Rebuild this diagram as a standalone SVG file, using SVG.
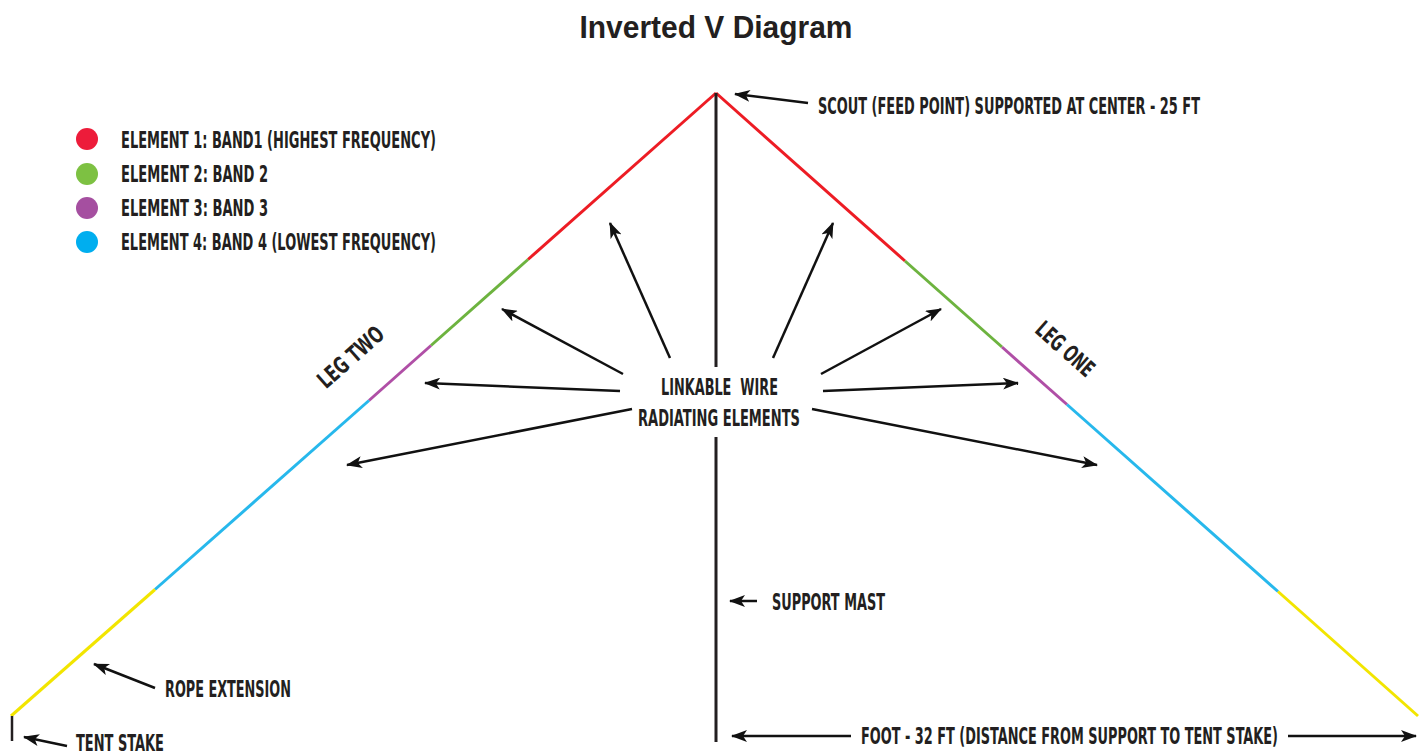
<svg xmlns="http://www.w3.org/2000/svg" width="1419" height="754" viewBox="0 0 1419 754">
<style>
.lbl{font-family:"Liberation Sans Narrow","DejaVu Sans Condensed","Roboto Condensed","Liberation Sans",sans-serif;font-weight:bold;fill:#231F20;font-size:23px;white-space:pre}
.arr{stroke:#111;stroke-width:2.5;fill:none;marker-end:url(#ah)}
.leg{stroke-width:3;fill:none;stroke-linecap:butt}
</style>
<defs>
<marker id="ah" markerUnits="userSpaceOnUse" markerWidth="16" markerHeight="12" viewBox="0 0 16 12" refX="15" refY="6" orient="auto">
<path d="M0,0 L16,6 L0,12 L4,6 Z" fill="#111"/>
</marker>
</defs>
<rect width="1419" height="754" fill="#fff"/>

<g id="title">
<text x="716" y="38" text-anchor="middle" font-family="Liberation Sans,Arial,sans-serif" font-weight="bold" font-size="31" fill="#231F20" textLength="273" lengthAdjust="spacingAndGlyphs">Inverted V Diagram</text>
</g>

<g id="legend">
<circle cx="87" cy="139" r="11" fill="#ED1C3A"/>
<circle cx="87" cy="174" r="11" fill="#7DC142"/>
<circle cx="87" cy="208" r="11" fill="#A54FA0"/>
<circle cx="87" cy="242" r="11" fill="#00AEEF"/>
<text class="lbl" x="121" y="148" textLength="315" lengthAdjust="spacingAndGlyphs">ELEMENT 1: BAND1 (HIGHEST FREQUENCY)</text>
<text class="lbl" x="121" y="182" textLength="147" lengthAdjust="spacingAndGlyphs">ELEMENT 2: BAND 2</text>
<text class="lbl" x="121" y="216" textLength="147" lengthAdjust="spacingAndGlyphs">ELEMENT 3: BAND 3</text>
<text class="lbl" x="121" y="250" textLength="315" lengthAdjust="spacingAndGlyphs">ELEMENT 4: BAND 4 (LOWEST FREQUENCY)</text>
</g>

<g id="leg-two">
<line class="leg" x1="716" y1="93" x2="528" y2="259.5" stroke="#ED1C24"/>
<line class="leg" x1="528" y1="259.5" x2="431" y2="345.5" stroke="#6DB33F"/>
<line class="leg" x1="431" y1="345.5" x2="369" y2="400.5" stroke="#B04FA6"/>
<line class="leg" x1="369" y1="400.5" x2="155" y2="589.5" stroke="#27B8EC"/>
<line class="leg" x1="155" y1="589.5" x2="11" y2="716" stroke="#F2E500"/>
<text class="lbl" transform="translate(356,363) rotate(-41.5)" text-anchor="middle" textLength="80" lengthAdjust="spacingAndGlyphs">LEG TWO</text>
</g>

<g id="leg-one">
<line class="leg" x1="716" y1="93" x2="905" y2="261" stroke="#ED1C24"/>
<line class="leg" x1="905" y1="261" x2="1002" y2="347" stroke="#6DB33F"/>
<line class="leg" x1="1002" y1="347" x2="1067" y2="404.5" stroke="#B04FA6"/>
<line class="leg" x1="1067" y1="404.5" x2="1278" y2="591.5" stroke="#27B8EC"/>
<line class="leg" x1="1278" y1="591.5" x2="1418" y2="716" stroke="#F2E500"/>
<text class="lbl" transform="translate(1060,355) rotate(41.5)" text-anchor="middle" textLength="70" lengthAdjust="spacingAndGlyphs">LEG ONE</text>
</g>

<g id="support-mast">
<line x1="716" y1="93" x2="716" y2="367" stroke="#231F20" stroke-width="3"/>
<line x1="716" y1="437" x2="716" y2="742" stroke="#231F20" stroke-width="3"/>
<text class="lbl" x="772" y="610" textLength="113" lengthAdjust="spacingAndGlyphs">SUPPORT MAST</text>
</g>

<g id="tent-stake">
<line x1="12" y1="716" x2="12" y2="741" stroke="#231F20" stroke-width="2.5"/>
<text class="lbl" x="76" y="751" textLength="88" lengthAdjust="spacingAndGlyphs">TENT STAKE</text>
</g>

<g id="labels">
<text class="lbl" x="818" y="114" textLength="382" lengthAdjust="spacingAndGlyphs">SCOUT (FEED POINT) SUPPORTED AT CENTER - 25 FT</text>
<text class="lbl" x="165" y="697" textLength="126" lengthAdjust="spacingAndGlyphs">ROPE EXTENSION</text>
<text class="lbl" x="661" y="395" textLength="117" lengthAdjust="spacingAndGlyphs">LINKABLE  WIRE</text>
<text class="lbl" x="638" y="426" textLength="162" lengthAdjust="spacingAndGlyphs">RADIATING ELEMENTS</text>
<text class="lbl" x="861" y="744" textLength="417" lengthAdjust="spacingAndGlyphs">FOOT - 32 FT (DISTANCE FROM SUPPORT TO TENT STAKE)</text>
</g>

<g id="connectors">
<line class="arr" x1="808" y1="103" x2="735" y2="94"/>
<line class="arr" x1="155" y1="688" x2="94" y2="664"/>
<line class="arr" x1="67" y1="746" x2="24" y2="737"/>
<line class="arr" x1="757" y1="601" x2="730" y2="601"/>
<line class="arr" x1="851" y1="736" x2="732" y2="736"/>
<line class="arr" x1="1288" y1="736" x2="1416" y2="736"/>
<line class="arr" x1="670" y1="358" x2="610" y2="223"/>
<line class="arr" x1="623" y1="374" x2="502" y2="309"/>
<line class="arr" x1="620" y1="391" x2="425" y2="383"/>
<line class="arr" x1="632" y1="409" x2="347" y2="465"/>
<line class="arr" x1="773" y1="358" x2="833" y2="223"/>
<line class="arr" x1="821" y1="374" x2="941" y2="309"/>
<line class="arr" x1="823" y1="391" x2="1018" y2="383"/>
<line class="arr" x1="812" y1="409" x2="1097" y2="465"/>
</g>
</svg>
